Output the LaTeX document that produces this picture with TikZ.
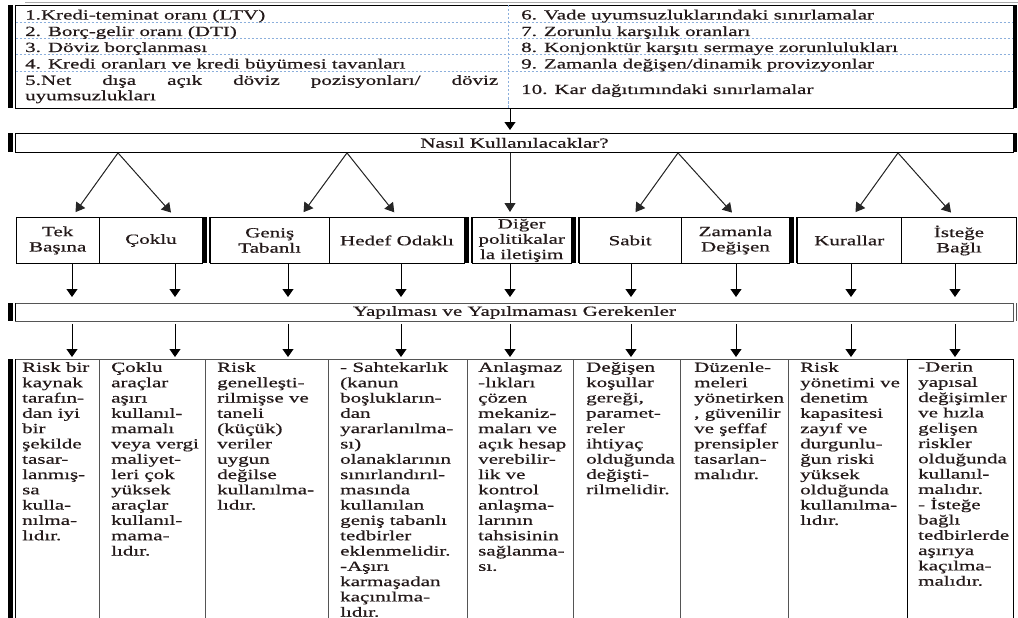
\documentclass[tikz,border=0pt]{standalone}
\usepackage{fontspec}
\setmainfont{Liberation Serif}[FakeStretch=1.5,FakeBold=0.6]
\usepackage{tikz}
\usetikzlibrary{arrows.meta,positioning}
\definecolor{gridBlue}{RGB}{140,175,220}
\definecolor{frameGray}{RGB}{85,85,85}
\definecolor{pageGray}{RGB}{170,170,170}
\definecolor{inkDark}{RGB}{35,25,25}
\newcommand{\fs}{\fontsize{14}{15.3}\selectfont}
% thick-thin left border of a group
\newcommand{\dbar}[3]{%
  \fill (#1,#2) rectangle ++(5,#3);
  \draw[line width=0.8pt] (#1+7.5,#2) -- ++(0,#3);}
\tikzset{
  basecell/.style={rectangle,draw=black,line width=0.9pt,inner sep=0pt,anchor=north west,font=\fs,text=inkDark},
  midcell/.style={basecell,minimum height=46pt,align=center},
  barbox/.style={basecell,minimum width=998pt,minimum height=19pt},
  colbox/.style={basecell,draw=frameGray,line width=1.1pt,minimum height=265pt},
  coltext/.style={inner sep=0pt,align=left,font=\fs,text=inkDark},
  rowtext/.style={inner sep=0pt,anchor=base west,font=\fs,text=inkDark},
  gridline/.style={draw=gridBlue,line width=0.7pt,dash pattern=on 2.5pt off 1.5pt},
  varr/.style={-{Triangle[width=11pt,length=8pt]},line width=1pt},
  darr/.style={-{Triangle[width=11pt,length=9pt]},line width=1pt,draw=black!85,fill=black}
}

\begin{document}
\begin{tikzpicture}[x=1pt,y=-1pt]
  \useasboundingbox (0,0) rectangle (1018,618);
  \draw[pageGray,line width=0.8pt] (25,2) -- (1018,2);

  %% Criteria table
  \node[basecell,minimum width=998pt,minimum height=103pt] (crit) at (15,5) {};
  \dbar{8}{5}{103}
  \fill (1012.5,5) rectangle (1016.5,108);
  \foreach \y in {22,38,54,71} \draw[gridline] (15.5,\y) -- (1012,\y);
  \draw[gridline] (508,5) -- (508,108);

  \node[rowtext] (k1) at (25,19.5) {1.Kredi-teminat oranı (LTV)};
  \node[rowtext] (k2) at (25,36) {2. Borç-gelir oranı (DTI)};
  \node[rowtext] (k3) at (25,52) {3. Döviz borçlanması};
  \node[rowtext] (k4) at (25,68.5) {4. Kredi oranları ve kredi büyümesi tavanları};
  \node[inner sep=0pt,anchor=north west,font=\fs,text=inkDark,text width=473pt,align=left] (k5) at (25,75)
    {5.Net\hfill dışa\hfill açık\hfill döviz\hfill pozisyonları/\hfill döviz\\uyumsuzlukları};
  \node[rowtext] (k6) at (521,19.5) {6. Vade uyumsuzluklarındaki sınırlamalar};
  \node[rowtext] (k7) at (521,36) {7. Zorunlu karşılık oranları};
  \node[rowtext] (k8) at (521,52) {8. Konjonktür karşıtı sermaye zorunlulukları};
  \node[rowtext] (k9) at (521,68.5) {9. Zamanla değişen/dinamik provizyonlar};
  \node[rowtext] (k10) at (521,94) {10. Kar dağıtımındaki sınırlamalar};

  %% How to use
  \node[barbox] (nasil) at (15,133) {Nasıl Kullanılacaklar?};
  \dbar{8}{133}{19}
  \fill (1013,133) rectangle (1017,152);

  %% Choice row
  \node[midcell,minimum width=83.5pt] (tek) at (15.5,217) {Tek\\Başına};
  \node[midcell,minimum width=103pt] (coklu) at (99,217) {Çoklu};
  \dbar{202}{217}{46}
  \node[midcell,minimum width=119.5pt] (genis) at (209.5,217) {Geniş\\Tabanlı};
  \node[midcell,minimum width=135pt] (hedef) at (329,217) {Hedef Odaklı};
  \dbar{464}{217}{46}
  \node[midcell,minimum width=99.5pt] (diger) at (471.5,217) {Diğer\\politikalar\\la iletişim};
  \dbar{571}{217}{46}
  \node[midcell,minimum width=102.5pt] (sabit) at (578.5,217) {Sabit};
  \node[midcell,minimum width=108pt] (zaman) at (681,217) {Zamanla\\Değişen};
  \dbar{789}{217}{46}
  \node[midcell,minimum width=104.5pt] (kural) at (796.5,217) {Kurallar};
  \node[midcell,minimum width=115pt] (istege) at (901,217) {İsteğe\\Bağlı};

  %% Dos and don'ts
  \node[barbox,draw=frameGray,minimum height=18pt] (yap) at (15,303) {Yapılması ve Yapılmaması Gerekenler};
  \dbar{8}{303}{18}
  \draw[frameGray,line width=0.8pt] (1016,303) -- (1016,321);

  %% Columns
  \node[colbox,minimum width=84pt] (c1) at (15,359) {};
  \node[colbox,minimum width=106pt] (c2) at (99,359) {};
  \node[colbox,minimum width=123pt] (c3) at (205,359) {};
  \node[colbox,minimum width=139pt] (c4) at (328,359) {};
  \node[colbox,minimum width=106pt] (c5) at (467,359) {};
  \node[colbox,minimum width=107pt] (c6) at (573,359) {};
  \node[colbox,minimum width=108pt] (c7) at (680,359) {};
  \node[colbox,minimum width=119pt] (c8) at (788,359) {};
  \node[colbox,draw=black,minimum width=106pt] (c9) at (907,359) {};
  \dbar{8}{359}{262}

  \node[coltext,below right=3pt and 7pt of c1.north west] (t1)
    {Risk bir\\kaynak\\tarafın-\\dan iyi\\bir\\şekilde\\tasar-\\lanmış-\\sa\\kulla-\\nılma-\\lıdır.};
  \node[coltext,below right=3pt and 12pt of c2.north west] (t2)
    {Çoklu\\araçlar\\aşırı\\kullanıl-\\mamalı\\veya vergi\\maliyet-\\leri çok\\yüksek\\araçlar\\kullanıl-\\mama-\\lıdır.};
  \node[coltext,below right=3pt and 12pt of c3.north west] (t3)
    {Risk\\genelleşti-\\rilmişse ve\\taneli\\(küçük)\\veriler\\uygun\\değilse\\kullanılma-\\lıdır.};
  \node[coltext,below right=3pt and 12pt of c4.north west] (t4)
    {- Sahtekarlık\\(kanun\\boşlukların-\\dan\\yararlanılma-\\sı)\\olanaklarının\\sınırlandırıl-\\masında\\kullanılan\\geniş tabanlı\\tedbirler\\eklenmelidir.\\-Aşırı\\karmaşadan\\kaçınılma-\\lıdır.};
  \node[coltext,below right=3pt and 11pt of c5.north west] (t5)
    {Anlaşmaz\\-lıkları\\çözen\\mekaniz-\\maları ve\\açık hesap\\verebilir-\\lik ve\\kontrol\\anlaşma-\\larının\\tahsisinin\\sağlanma-\\sı.};
  \node[coltext,below right=3pt and 13pt of c6.north west] (t6)
    {Değişen\\koşullar\\gereği,\\paramet-\\reler\\ihtiyaç\\olduğunda\\değişti-\\rilmelidir.};
  \node[coltext,below right=3pt and 14pt of c7.north west] (t7)
    {Düzenle-\\meleri\\yönetirken\\, güvenilir\\ve şeffaf\\prensipler\\tasarlan-\\malıdır.};
  \node[coltext,below right=3pt and 12pt of c8.north west] (t8)
    {Risk\\yönetimi ve\\denetim\\kapasitesi\\zayıf ve\\durgunlu-\\ğun riski\\yüksek\\olduğunda\\kullanılma-\\lıdır.};
  \node[coltext,below right=3pt and 11pt of c9.north west] (t9)
    {-Derin\\yapısal\\değişimler\\ve hızla\\gelişen\\riskler\\olduğunda\\kullanıl-\\malıdır.\\- İsteğe\\bağlı\\tedbirlerde\\aşırıya\\kaçılma-\\malıdır.};

  %% Connectors
  \foreach \n/\x in {a/72,b/175,c/288,d/401,e/510,f/631,g/736,h/851,i/955}
    \coordinate (v\n) at (\x,0);
  \foreach \n/\x in {A/118,B/347,C/678,D/898}
    \coordinate (ap\n) at (\x,0);
  \foreach \n/\x in {a/72,b/175,c/300,d/398,e/632,f/736,g/852,h/955}
    \coordinate (d\n) at (\x,0);

  \draw[varr,shorten >=3pt] (ve |- crit.south) -- (ve |- nasil.north);
  \draw[darr,shorten >=6pt] (apA |- nasil.south) -- (da |- tek.north);
  \draw[darr,shorten >=6pt] (apA |- nasil.south) -- (db |- coklu.north);
  \draw[darr,shorten >=6pt] (apB |- nasil.south) -- (dc |- genis.north);
  \draw[darr,shorten >=6pt] (apB |- nasil.south) -- (dd |- hedef.north);
  \draw[darr,shorten >=5pt] (ve |- nasil.south) -- (ve |- diger.north);
  \draw[darr,shorten >=6pt] (apC |- nasil.south) -- (de |- sabit.north);
  \draw[darr,shorten >=6pt] (apC |- nasil.south) -- (df |- zaman.north);
  \draw[darr,shorten >=6pt] (apD |- nasil.south) -- (dg |- kural.north);
  \draw[darr,shorten >=6pt] (apD |- nasil.south) -- (dh |- istege.north);

  \foreach \n in {a,b,c,d,e,f,g,h,i} {
    \draw[varr,shorten >=6pt] (v\n |- tek.south) -- (v\n |- yap.north);
    \draw[varr,shorten <=2pt,shorten >=2pt] (v\n |- yap.south) -- (v\n |- c1.north);
  }
\end{tikzpicture}
\end{document}
